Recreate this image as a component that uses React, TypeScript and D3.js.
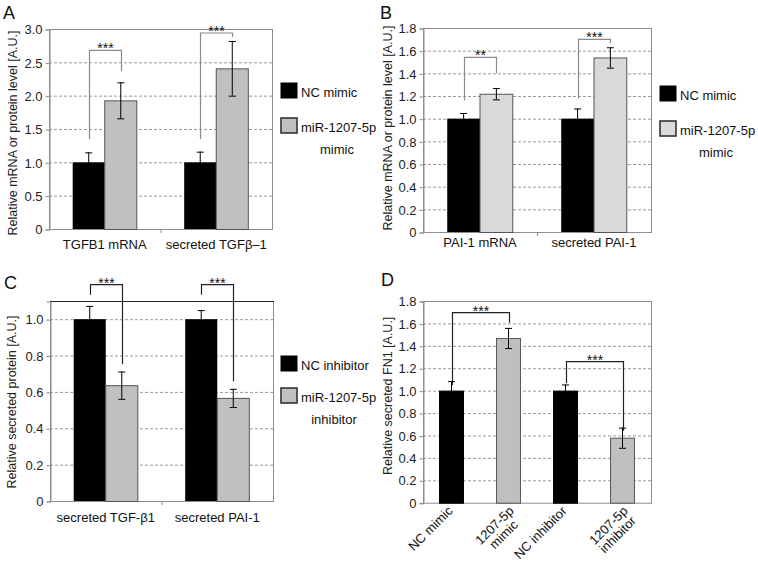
import { useEffect, useRef } from "react";
import * as d3 from "d3";

// Panel A
const catsA = ["TGFB1 mRNA", "secreted TGFβ–1"];
const ncA = [1.0, 1.0];
const ncErrA = [0.15, 0.16];
const mimicA = [1.93, 2.41];
const mimicErrA = [0.27, 0.41];
const ticksA = [0, 0.5, 1.0, 1.5, 2.0, 2.5, 3.0];
const sigA = [
  { cat: 0, left: 1.35, top: 2.68, right: 2.37, label: "***" },
  { cat: 1, left: 1.35, top: 2.94, right: 2.88, label: "***" },
];

// Panel B
const catsB = ["PAI-1 mRNA", "secreted PAI-1"];
const ncB = [1.0, 1.0];
const ncErrB = [0.05, 0.09];
const mimicB = [1.22, 1.54];
const mimicErrB = [0.05, 0.09];
const ticksB = [0, 0.2, 0.4, 0.6, 0.8, 1.0, 1.2, 1.4, 1.6, 1.8];
const sigB = [
  { cat: 0, left: 1.16, top: 1.54, right: 1.4, label: "**" },
  { cat: 1, left: 1.18, top: 1.7, right: 1.665, label: "***" },
];

// Panel C
const catsC = ["secreted TGF-β1", "secreted PAI-1"];
const ncC = [1.0, 1.0];
const ncErrC = [0.073, 0.05];
const inhC = [0.637, 0.567];
const inhErrC = [0.075, 0.05];
const ticksC = [0, 0.2, 0.4, 0.6, 0.8, 1.0];
const sigC = [
  { cat: 0, left: 1.134, top: 1.19, right: 0.752, label: "***" },
  { cat: 1, left: 1.134, top: 1.19, right: 0.657, label: "***" },
];

// Panel D
const catsD = [["NC mimic"], ["1207-5p", "mimic"], ["NC inhibitor"], ["1207-5p", "inhibitor"]];
const valuesD = [1.0, 1.47, 1.0, 0.58];
const errD = [0.085, 0.09, 0.055, 0.09];
const isMirD = [false, true, false, true];
const ticksD = [0, 0.2, 0.4, 0.6, 0.8, 1.0, 1.2, 1.4, 1.6, 1.8];
const sigD = [
  { from: 0, to: 1, left: 1.05, top: 1.696, right: 1.607, label: "***" },
  { from: 2, to: 3, left: 1.066, top: 1.259, right: 0.643, label: "***" },
];

const FONT = "'Liberation Sans', Arial, sans-serif";
const fmt = (t) => (t === 0 ? "0" : t.toFixed(1));

function drawAxisFrame(g, p, y) {
  // grid
  g.selectAll(".grid")
    .data(p.ticks.filter((t) => t > 0))
    .enter()
    .append("line")
    .attr("x1", p.left)
    .attr("x2", p.right)
    .attr("y1", (d) => y(d) + 0.5)
    .attr("y2", (d) => y(d) + 0.5)
    .attr("stroke", "#9a9a9a")
    .attr("stroke-dasharray", "3,2");

  // frame
  g.append("rect")
    .attr("x", p.left + 0.5)
    .attr("y", y(p.max) + 0.5)
    .attr("width", p.right - p.left)
    .attr("height", y(0) - y(p.max))
    .attr("fill", "none")
    .attr("stroke", "#8c8c8c");
  if (p.darkTop) {
    g.append("line")
      .attr("x1", p.left)
      .attr("x2", p.right + 1)
      .attr("y1", y(p.max) + 0.5)
      .attr("y2", y(p.max) + 0.5)
      .attr("stroke", "#222");
  }

  const axis = d3.axisLeft(y).tickValues(p.ticks).tickFormat(fmt).tickSize(4).tickPadding(3);
  const ag = g.append("g").attr("transform", `translate(${p.left + 0.5},0.5)`).call(axis);
  ag.select(".domain").attr("stroke", "#8c8c8c");
  ag.selectAll("line").attr("stroke", "#8c8c8c");
  ag.selectAll("text").attr("font-family", FONT).attr("font-size", 13).attr("fill", "#222");

  g.append("text")
    .attr("transform", `translate(${p.titleX},${(p.top + p.bottom) / 2 + p.titleDy}) rotate(-90)`)
    .attr("text-anchor", "middle")
    .attr("font-family", FONT)
    .attr("font-size", 12.5)
    .attr("fill", "#222")
    .text(p.title);

  g.append("text")
    .attr("x", p.letterX)
    .attr("y", p.letterY)
    .attr("font-family", FONT)
    .attr("font-size", 18)
    .attr("fill", "#111")
    .text(p.letter);
}

function drawError(g, cx, y, v, e) {
  g.append("line").attr("x1", cx).attr("x2", cx).attr("y1", y(v + e)).attr("y2", y(v - e)).attr("stroke", "#000");
  g.append("line").attr("x1", cx - 3.5).attr("x2", cx + 3.5).attr("y1", y(v + e) + 0.5).attr("y2", y(v + e) + 0.5).attr("stroke", "#000");
  g.append("line").attr("x1", cx - 3.5).attr("x2", cx + 3.5).attr("y1", y(v - e) + 0.5).attr("y2", y(v - e) + 0.5).attr("stroke", "#000");
}

function drawBracket(g, x1, x2, y, s, color) {
  const path = d3.path();
  path.moveTo(x1, y(s.left));
  path.lineTo(x1, y(s.top));
  path.lineTo(x2, y(s.top));
  path.lineTo(x2, y(s.right));
  g.append("path").attr("d", path.toString()).attr("fill", "none").attr("stroke", color).attr("stroke-width", 1.2);
  g.append("text")
    .attr("x", (x1 + x2) / 2)
    .attr("y", y(s.top) + 3)
    .attr("text-anchor", "middle")
    .attr("font-family", FONT)
    .attr("font-size", 14)
    .attr("fill", "#111")
    .text(s.label);
}

function drawLegend(g, p) {
  const items = [
    { fill: "#000", stroke: "#000", sw: 1, lines: [p.legend[0]] },
    { fill: p.gray, stroke: "#333", sw: 1.6, lines: p.legend.slice(1) },
  ];
  items.forEach((it, i) => {
    const ly = p.legendY[i];
    g.append("rect")
      .attr("x", p.legendX)
      .attr("y", ly)
      .attr("width", 16)
      .attr("height", 15)
      .attr("fill", it.fill)
      .attr("stroke", it.stroke)
      .attr("stroke-width", it.sw);
    it.lines.forEach((t, j) => {
      g.append("text")
        .attr("x", j === 0 ? p.legendX + 20 : p.legendX + 20 + p.legendLine2Dx)
        .attr("y", ly + 13.5 + j * 22.5)
        .attr("text-anchor", j === 0 ? "start" : "middle")
        .attr("font-family", FONT)
        .attr("font-size", 13)
        .attr("fill", "#111")
        .text(t);
    });
  });
}

function drawGrouped(svg, p) {
  const g = svg.append("g");
  const y = d3.scaleLinear().domain([0, p.max]).range([p.bottom, p.top]);
  drawAxisFrame(g, p, y);

  const x0 = d3.scaleBand().domain(p.cats).range([p.left, p.right]);
  const groupW = x0.bandwidth() * 0.575;
  const x1 = d3.scaleBand().domain(["nc", "mir"]).range([0, groupW]);
  const barX = (i, s) => x0(p.cats[i]) + (x0.bandwidth() - groupW) / 2 + x1(s);

  // category boundary ticks
  g.append("line")
    .attr("x1", x0(p.cats[1]) + 0.5)
    .attr("x2", x0(p.cats[1]) + 0.5)
    .attr("y1", y(0))
    .attr("y2", y(0) + 4)
    .attr("stroke", "#8c8c8c");

  p.cats.forEach((c, i) => {
    g.append("rect")
      .attr("x", barX(i, "nc"))
      .attr("y", y(p.nc[i]))
      .attr("width", x1.bandwidth())
      .attr("height", y(0) - y(p.nc[i]))
      .attr("fill", "#000");
    g.append("rect")
      .attr("x", barX(i, "mir"))
      .attr("y", y(p.mir[i]) + 0.5)
      .attr("width", x1.bandwidth())
      .attr("height", y(0) - y(p.mir[i]))
      .attr("fill", p.gray)
      .attr("stroke", "#555");
    drawError(g, barX(i, "nc") + x1.bandwidth() / 2, y, p.nc[i], p.ncErr[i]);
    drawError(g, barX(i, "mir") + x1.bandwidth() / 2, y, p.mir[i], p.mirErr[i]);

    g.append("text")
      .attr("x", x0(c) + x0.bandwidth() / 2)
      .attr("y", y(0) + p.catDy)
      .attr("text-anchor", "middle")
      .attr("font-family", FONT)
      .attr("font-size", 13)
      .attr("fill", "#111")
      .text(c);
  });

  p.sig.forEach((s) => {
    const xa = Math.round(barX(s.cat, "nc") + x1.bandwidth() / 2) + 0.5;
    const xb = Math.round(barX(s.cat, "mir") + x1.bandwidth() / 2) + 0.5;
    drawBracket(g, xa, xb, y, s, p.bracketColor);
  });

  drawLegend(g, p);
}

function drawD(svg, p) {
  const g = svg.append("g");
  const y = d3.scaleLinear().domain([0, p.max]).range([p.bottom, p.top]);
  drawAxisFrame(g, p, y);
  const x = d3.scaleBand().domain(d3.range(catsD.length)).range([p.left, p.right]).paddingInner(0.58).paddingOuter(0.29);
  const cx = (i) => x(i) + x.bandwidth() / 2;

  valuesD.forEach((v, i) => {
    g.append("rect")
      .attr("x", x(i))
      .attr("y", y(v) + 0.5)
      .attr("width", x.bandwidth())
      .attr("height", y(0) - y(v))
      .attr("fill", isMirD[i] ? p.gray : "#000")
      .attr("stroke", isMirD[i] ? "#555" : "#000");
    drawError(g, cx(i), y, v, errD[i]);

    const lines = catsD[i];
    const lg = g
      .append("g")
      .attr("transform", `translate(${cx(i) + (lines.length > 1 ? 6 : 2)},${y(0) + 9}) rotate(-45)`);
    const first = lg
      .append("text")
      .attr("font-family", FONT)
      .attr("font-size", 13)
      .attr("fill", "#111")
      .attr("text-anchor", "end")
      .text(lines[0]);
    if (lines.length > 1) {
      const w = first.node().getComputedTextLength();
      first.attr("text-anchor", "middle").attr("x", -w / 2);
      lg.append("text")
        .attr("x", -w / 2)
        .attr("y", 13)
        .attr("font-family", FONT)
        .attr("font-size", 13)
        .attr("fill", "#111")
        .attr("text-anchor", "middle")
        .text(lines[1]);
    }
  });

  sigD.forEach((s) => {
    drawBracket(g, Math.round(cx(s.from)) + 0.5, Math.round(cx(s.to)) + 0.5, y, s, p.bracketColor);
  });
}

export default function App() {
  const svgRef = useRef(null);

  useEffect(() => {
    const svg = d3.select(svgRef.current);
    svg.selectAll("*").remove();

    drawGrouped(svg, {
      letter: "A", letterX: 3, letterY: 19,
      left: 49, right: 272, top: 29, bottom: 229, max: 3.0, ticks: ticksA,
      title: "Relative mRNA or protein level [A.U.]", titleX: 17, titleDy: 4,
      cats: catsA, nc: ncA, ncErr: ncErrA, mir: mimicA, mirErr: mimicErrA, sig: sigA,
      gray: "#c0c0c0", bracketColor: "#8a8a8a", catDy: 20,
      legend: ["NC mimic", "miR-1207-5p", "mimic"], legendX: 281, legendY: [83, 118], legendLine2Dx: 36,
    });

    drawGrouped(svg, {
      letter: "B", letterX: 380, letterY: 19,
      left: 423, right: 651, top: 28, bottom: 232, max: 1.8, ticks: ticksB,
      title: "Relative mRNA or protein level [A.U.]", titleX: 392, titleDy: -2,
      cats: catsB, nc: ncB, ncErr: ncErrB, mir: mimicB, mirErr: mimicErrB, sig: sigB,
      gray: "#d9d9d9", bracketColor: "#8a8a8a", catDy: 15,
      legend: ["NC mimic", "miR-1207-5p", "mimic"], legendX: 660, legendY: [86, 121], legendLine2Dx: 36,
    });

    drawGrouped(svg, {
      letter: "C", letterX: 4, letterY: 289,
      left: 50, right: 273, top: 301, bottom: 501, max: 1.1, ticks: ticksC, darkTop: true,
      title: "Relative secreted protein [A.U.]", titleX: 16, titleDy: 1,
      cats: catsC, nc: ncC, ncErr: ncErrC, mir: inhC, mirErr: inhErrC, sig: sigC,
      gray: "#c0c0c0", bracketColor: "#222", catDy: 21,
      legend: ["NC inhibitor", "miR-1207-5p", "inhibitor"], legendX: 281, legendY: [356, 388], legendLine2Dx: 33,
    });

    drawD(svg, {
      letter: "D", letterX: 381, letterY: 286,
      left: 423, right: 651, top: 301, bottom: 502.7, max: 1.8, ticks: ticksD,
      title: "Relative secreted FN1 [A.U.]", titleX: 392, titleDy: -6,
      gray: "#bfbfbf", bracketColor: "#222",
    });
  }, []);

  return (
    <svg
      ref={svgRef}
      width={758}
      height={562}
      style={{ position: "absolute", left: 0, top: 0, background: "#fff" }}
    />
  );
}
